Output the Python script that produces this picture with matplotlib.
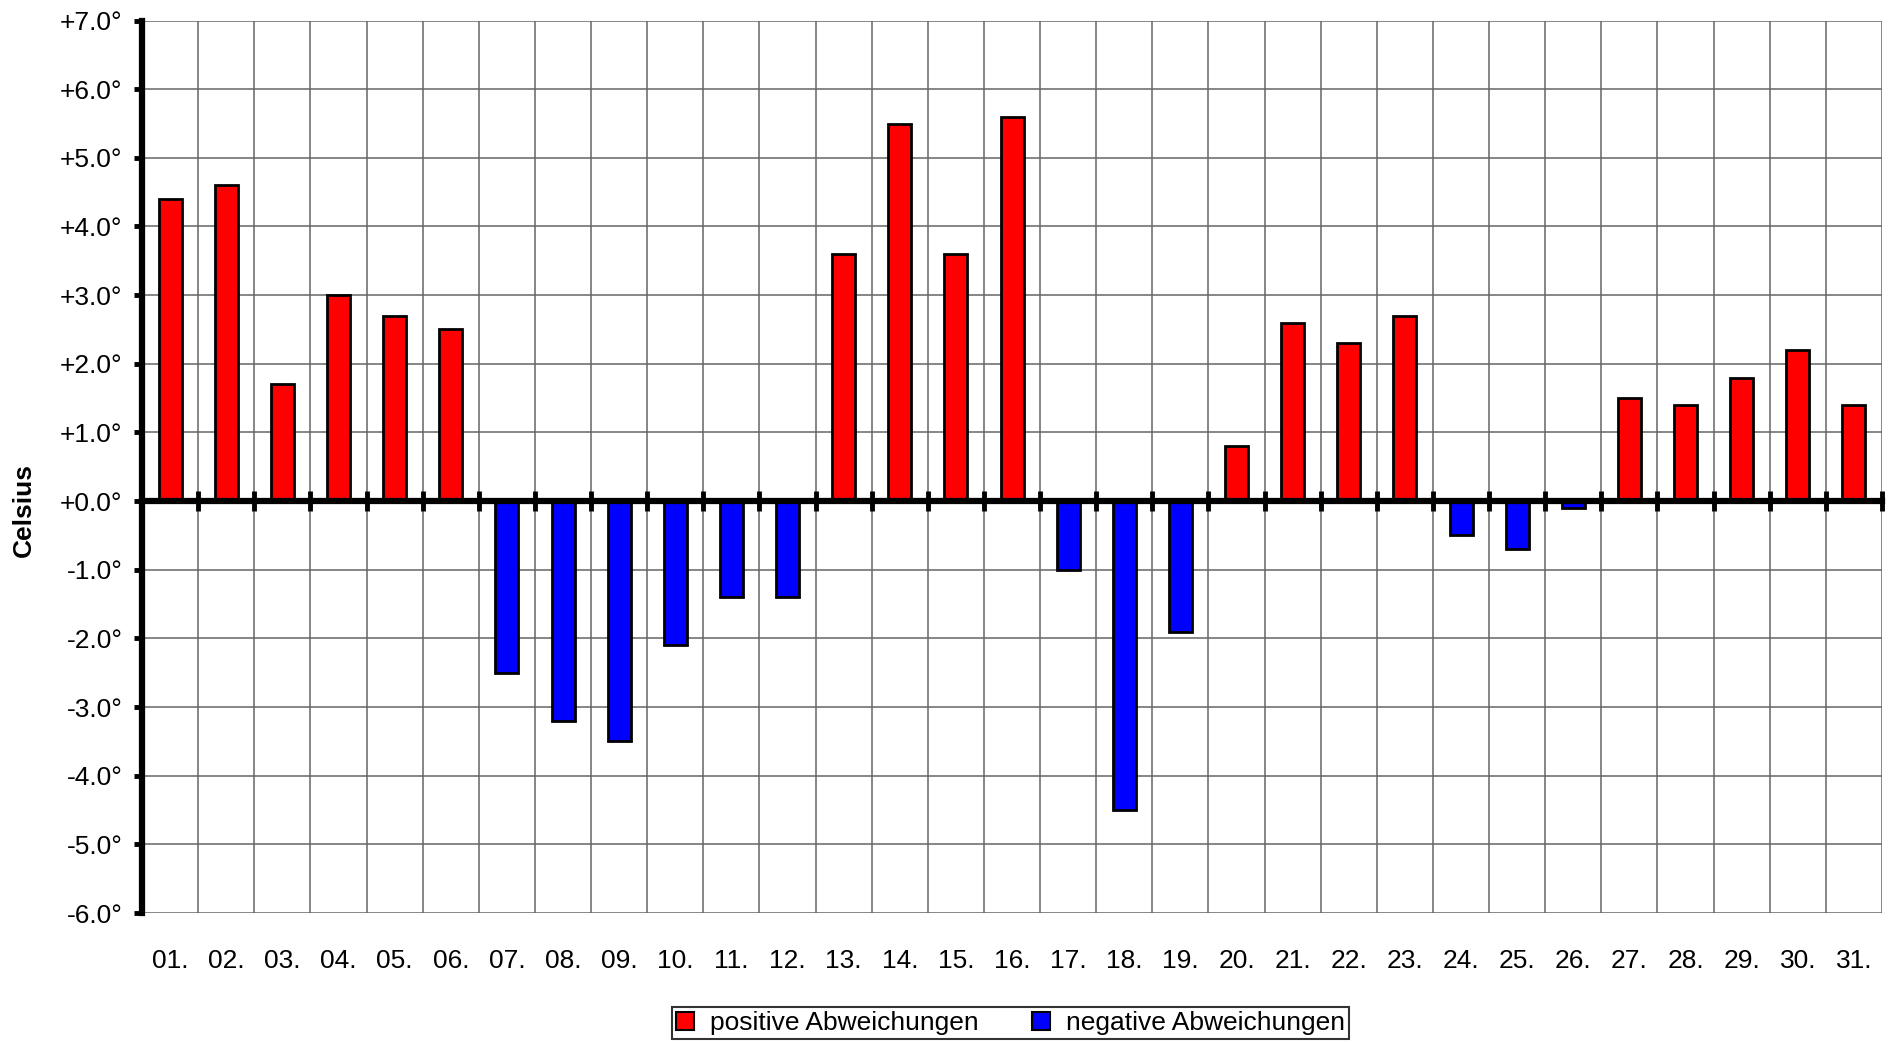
import matplotlib
matplotlib.use("Agg")
from matplotlib import pyplot as plt
from matplotlib.ticker import FuncFormatter, FixedLocator
from matplotlib.patches import Patch
import numpy as np

plt.rcParams['font.family'] = ['Liberation Sans', 'DejaVu Sans']

# day labels and deviations (Celsius)
days = ["%02d." % d for d in range(1, 32)]
values = [4.4, 4.6, 1.7, 3.0, 2.7, 2.5, -2.5, -3.2, -3.5, -2.1, -1.4, -1.4,
          3.6, 5.5, 3.6, 5.6, -1.0, -4.5, -1.9, 0.8, 2.6, 2.3, 2.7, -0.5,
          -0.7, -0.1, 1.5, 1.4, 1.8, 2.2, 1.4]

fs = 19
fig = plt.figure(figsize=(18.92, 10.42), dpi=100)
ax = fig.add_axes([0.0751, 0.1238, 0.9196, 0.8565])

x = np.arange(len(days))
cols = ["#FF0000" if v >= 0 else "#0000FF" for v in values]
ax.bar(x, values, width=0.41, color=cols, edgecolor="black", linewidth=2, zorder=3)

ax.set_xlim(-0.5, len(days) - 0.5)
ax.set_ylim(-6, 7)

# zero line with boundary ticks
ax.spines['bottom'].set_position(('data', 0))
ax.spines['bottom'].set_linewidth(4.5)
ax.spines['bottom'].set_zorder(4)
ax.spines['left'].set_linewidth(4.5)
ax.spines['top'].set_visible(False)
ax.spines['right'].set_visible(False)
ax.xaxis.set_major_locator(FixedLocator(np.arange(len(days) + 1) - 0.5))
ax.tick_params(axis='x', direction='inout', length=14, width=3.5, labelbottom=False)

ax.yaxis.set_major_locator(FixedLocator(np.arange(-6, 8)))
ax.yaxis.set_major_formatter(FuncFormatter(lambda v, p: "%+.1f°" % v))
ax.tick_params(axis='y', direction='out', length=6, width=3.5, labelsize=fs, pad=8)

ax.grid(True, color="#666666", linewidth=1.1, zorder=0)
ax.set_axisbelow(True)

sec = ax.secondary_xaxis('bottom')
sec.set_xticks(x)
sec.set_xticklabels(days)
sec.tick_params(length=0, labelsize=fs, pad=26)
sec.spines['bottom'].set_visible(False)

fig.text(0.0127, 1 - 510 / 1042, "Celsius", rotation=90, fontsize=fs,
         fontweight="bold", ha="center", va="center")

handles = [Patch(facecolor="#FF0000", edgecolor="black", linewidth=1.5, label="positive Abweichungen"),
           Patch(facecolor="#0000FF", edgecolor="black", linewidth=1.5, label="negative Abweichungen")]
leg = fig.legend(handles=handles, loc="lower center", bbox_to_anchor=(0.534, 0.0), ncol=2,
                 fontsize=fs, frameon=True, fancybox=False, handlelength=0.7, handleheight=0.7,
                 handletextpad=0.6, columnspacing=2.0, borderpad=0.15, borderaxespad=0.1)
leg.get_frame().set_edgecolor("black")
leg.get_frame().set_linewidth(1.5)

fig.savefig("out.png", dpi=100)
